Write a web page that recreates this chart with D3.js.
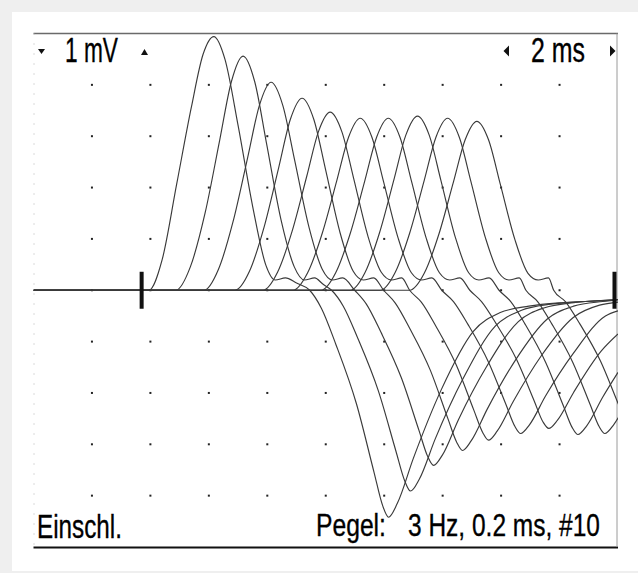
<!DOCTYPE html>
<html>
<head>
<meta charset="utf-8">
<script src="https://cdn.jsdelivr.net/npm/d3@7"></script>
<style>
html,body{margin:0;padding:0;background:#efefef;}
svg{display:block;}
</style>
</head>
<body>
<script>
// ---- data (time in ms, voltage in mV) ----
const timeDomain = [0, 20];      // 10 divisions x 2 ms
const voltDomain = [-5, 5];      // 10 divisions x 1 mV
const gridTimes = [2, 4, 6, 8, 10, 12, 14, 16, 18];
const gridVolts = [4, 3, 2, 1, 0, -1, -2, -3, -4];
const stimTime = 3.7;
const endMarkTime = 19.88;
const markerHalf = 0.36;

const trace1 = [[0,0],[3.95,0],[4.4,0.59],[4.9,2.07],[5.4,3.56],[5.8,4.59],[6.17,4.94],[6.55,4.5],[7.0,3.21],[7.5,1.63],[7.95,0.49],[8.27,0.2],[8.62,0.24],[9.0,0.14],[9.45,0],[9.85,-0.35],[10.35,-1.06],[11.05,-2.21],[11.65,-3.54],[11.95,-4.2],[12.15,-4.42],[12.45,-4.15],[13.0,-3.27],[13.95,-1.94],[15.05,-0.8],[15.95,-0.44],[16.95,-0.31],[18.15,-0.24],[19.85,-0.2]];
const trace2 = [[0,0],[4.87,0],[5.37,0.46],[5.87,1.5],[6.37,2.92],[6.77,4.06],[7.17,4.56],[7.57,4.06],[7.97,2.87],[8.47,1.37],[8.92,0.46],[9.27,0.2],[9.62,0.24],[9.9,0.12],[10.2,0],[10.6,-0.31],[11.1,-0.94],[11.8,-1.96],[12.4,-3.13],[12.7,-3.71],[12.9,-3.91],[13.2,-3.68],[13.75,-2.89],[14.7,-1.72],[15.8,-0.7],[16.7,-0.39],[17.7,-0.27],[18.9,-0.22],[20,-0.18]];
const trace3 = [[0,0],[5.83,0],[6.33,0.41],[6.83,1.34],[7.33,2.59],[7.73,3.6],[8.13,4.05],[8.53,3.6],[8.93,2.55],[9.43,1.22],[9.88,0.41],[10.23,0.2],[10.58,0.24],[10.99,0],[11.39,-0.27],[11.89,-0.82],[12.59,-1.71],[13.19,-2.73],[13.49,-3.24],[13.69,-3.41],[13.99,-3.21],[14.54,-2.52],[15.49,-1.5],[16.59,-0.61],[17.49,-0.34],[18.49,-0.24],[19.69,-0.19],[20,-0.18]];
const trace4 = [[0,0],[6.89,0],[7.39,0.37],[7.89,1.23],[8.39,2.39],[8.79,3.33],[9.19,3.74],[9.59,3.33],[9.99,2.36],[10.49,1.12],[10.94,0.37],[11.29,0.2],[11.64,0.24],[11.98,0],[12.38,-0.25],[12.88,-0.75],[13.58,-1.56],[14.18,-2.5],[14.48,-2.96],[14.68,-3.12],[14.98,-2.93],[15.53,-2.31],[16.48,-1.37],[17.58,-0.56],[18.48,-0.31],[19.48,-0.22],[20,-0.19]];
const trace5 = [[0,0],[7.85,0],[8.35,0.35],[8.85,1.15],[9.35,2.22],[9.75,3.09],[10.15,3.47],[10.55,3.09],[10.95,2.19],[11.45,1.04],[11.9,0.35],[12.25,0.2],[12.6,0.24],[12.87,0],[13.27,-0.23],[13.77,-0.7],[14.47,-1.46],[15.07,-2.34],[15.37,-2.77],[15.57,-2.92],[15.87,-2.74],[16.42,-2.16],[17.37,-1.28],[18.47,-0.53],[19.37,-0.29],[20,-0.23]];
const trace6 = [[0,0],[8.88,0],[9.38,0.34],[9.88,1.11],[10.38,2.14],[10.78,2.98],[11.18,3.35],[11.58,2.98],[11.98,2.11],[12.48,1.01],[12.93,0.34],[13.28,0.2],[13.63,0.24],[13.97,0],[14.37,-0.22],[14.87,-0.67],[15.57,-1.4],[16.17,-2.23],[16.47,-2.65],[16.67,-2.79],[16.97,-2.62],[17.52,-2.06],[18.47,-1.23],[19.57,-0.5],[20,-0.4]];
const trace7 = [[0,0],[9.84,0],[10.34,0.34],[10.84,1.11],[11.34,2.14],[11.74,2.98],[12.14,3.35],[12.54,2.98],[12.94,2.11],[13.44,1.01],[13.89,0.34],[14.24,0.2],[14.59,0.24],[14.93,0],[15.33,-0.22],[15.83,-0.65],[16.53,-1.35],[17.13,-2.15],[17.43,-2.56],[17.63,-2.69],[17.93,-2.53],[18.48,-1.99],[19.43,-1.18],[20,-0.85]];
const trace8 = [[0,0],[10.84,0],[11.34,0.34],[11.84,1.12],[12.34,2.17],[12.74,3.02],[13.14,3.39],[13.54,3.02],[13.94,2.14],[14.44,1.02],[14.89,0.34],[15.24,0.2],[15.59,0.24],[15.93,0],[16.33,-0.22],[16.83,-0.67],[17.53,-1.41],[18.13,-2.25],[18.43,-2.67],[18.63,-2.81],[18.93,-2.64],[19.48,-2.08],[20,-1.6]];
const trace9 = [[0,0],[11.87,0],[12.37,0.34],[12.87,1.11],[13.37,2.14],[13.77,2.98],[14.17,3.35],[14.57,2.98],[14.97,2.11],[15.47,1.01],[15.92,0.34],[16.27,0.2],[16.62,0.24],[16.85,0],[17.25,-0.22],[17.75,-0.67],[18.45,-1.4],[19.05,-2.23],[19.35,-2.65],[19.55,-2.79],[19.85,-2.62],[20.4,-2.06]];
const trace10 = [[0,0],[12.87,0],[13.37,0.33],[13.87,1.09],[14.37,2.11],[14.77,2.93],[15.17,3.29],[15.57,2.93],[15.97,2.07],[16.47,0.99],[16.92,0.33],[17.27,0.2],[17.62,0.24],[17.8,0],[18.2,-0.22],[18.7,-0.66],[19.4,-1.38],[20.0,-2.2],[20.3,-2.61],[20.5,-2.75]];
const traces = [trace1, trace2, trace3, trace4, trace5, trace6, trace7, trace8, trace9, trace10];

const labelGain = "1 mV";
const labelTime = "2 ms";
const labelLeft = "Einschl.";
const labelPegel = "Pegel:";
const labelInfo = "3 Hz, 0.2 ms, #10";

// ---- drawing ----
const W = 638, H = 573;
const svg = d3.select("body").append("svg").attr("width", W).attr("height", H);
svg.append("rect").attr("width", W).attr("height", H).attr("fill", "#efefef");
svg.append("rect").attr("x", 12).attr("y", 12).attr("width", W - 12).attr("height", 559).attr("fill", "#ffffff");

const x = d3.scaleLinear().domain(timeDomain).range([33.5, 618]);
const y = d3.scaleLinear().domain(voltDomain).range([547, 33.5]);

svg.append("defs").append("clipPath").attr("id", "plotclip")
  .append("rect").attr("x", x(0)).attr("y", y(5)).attr("width", x(20) - x(0)).attr("height", y(-5) - y(5));

// frame
svg.append("line").attr("x1", x(0)).attr("x2", x(20)).attr("y1", y(5)).attr("y2", y(5))
  .attr("stroke", "#6a6a6a").attr("stroke-width", 1.6);
svg.append("line").attr("x1", x(0)).attr("x2", x(20)).attr("y1", y(-5) + 0.5).attr("y2", y(-5) + 0.5)
  .attr("stroke", "#111").attr("stroke-width", 2.2);
svg.append("line").attr("x1", x(20) - 1).attr("x2", x(20) - 1).attr("y1", y(5)).attr("y2", y(-5))
  .attr("stroke", "#9a9a9a").attr("stroke-width", 1);
svg.append("line").attr("x1", x(0) + 0.5).attr("x2", x(0) + 0.5).attr("y1", y(5)).attr("y2", y(-5))
  .attr("stroke", "#b5b5b5").attr("stroke-width", 1).attr("stroke-dasharray", "1,9");

// grid dots
const dots = [];
gridTimes.forEach(t => gridVolts.forEach(v => dots.push([t, v])));
svg.append("g").selectAll("rect").data(dots).join("rect")
  .attr("x", d => x(d[0]) - 1).attr("y", d => y(d[1]) - 1)
  .attr("width", 2).attr("height", 2).attr("fill", "#222");

// traces
const line = d3.line().x(d => x(d[0])).y(d => y(d[1])).curve(d3.curveMonotoneX);
svg.append("g").attr("clip-path", "url(#plotclip)").selectAll("path").data(traces).join("path")
  .attr("d", line).attr("fill", "none").attr("stroke", "#3a3a3a").attr("stroke-width", 1.15)
  .attr("stroke-linejoin", "round");

// markers
[stimTime, endMarkTime].forEach(t => {
  svg.append("rect").attr("x", x(t) - 2).attr("y", y(markerHalf)).attr("width", 4)
    .attr("height", y(-markerHalf) - y(markerHalf)).attr("fill", "#111");
});

// triangles
const tri = (pts) => svg.append("path").attr("d", "M" + pts.map(p => p.join(",")).join("L") + "Z").attr("fill", "#111");
tri([[38, 49], [45, 49], [41.5, 54]]);
tri([[141, 55], [148, 55], [144.5, 49]]);
tri([[509, 45.5], [509, 56.5], [503.5, 51]]);
tri([[610, 45.5], [610, 56.5], [615.5, 51]]);

// texts (horizontally condensed like the instrument's narrow font)
const txt = (s, xx, yy, len, fs) => {
  const t = svg.append("text").attr("x", 0).attr("y", 0)
    .attr("font-family", "'Liberation Sans', Arial, sans-serif").attr("font-size", fs)
    .attr("fill", "#000").attr("stroke", "#000").attr("stroke-width", 0.35).text(s);
  const w = t.node().getComputedTextLength();
  t.attr("transform", `translate(${xx},${yy}) scale(${len / w},1)`);
};
txt(labelGain, 65, 62, 53, 35);
txt(labelTime, 531, 62, 54, 35);
txt(labelLeft, 37, 538, 85, 34);
txt(labelPegel, 316, 536, 70, 32);
txt(labelInfo, 408, 536, 192, 32);
</script>
</body>
</html>
